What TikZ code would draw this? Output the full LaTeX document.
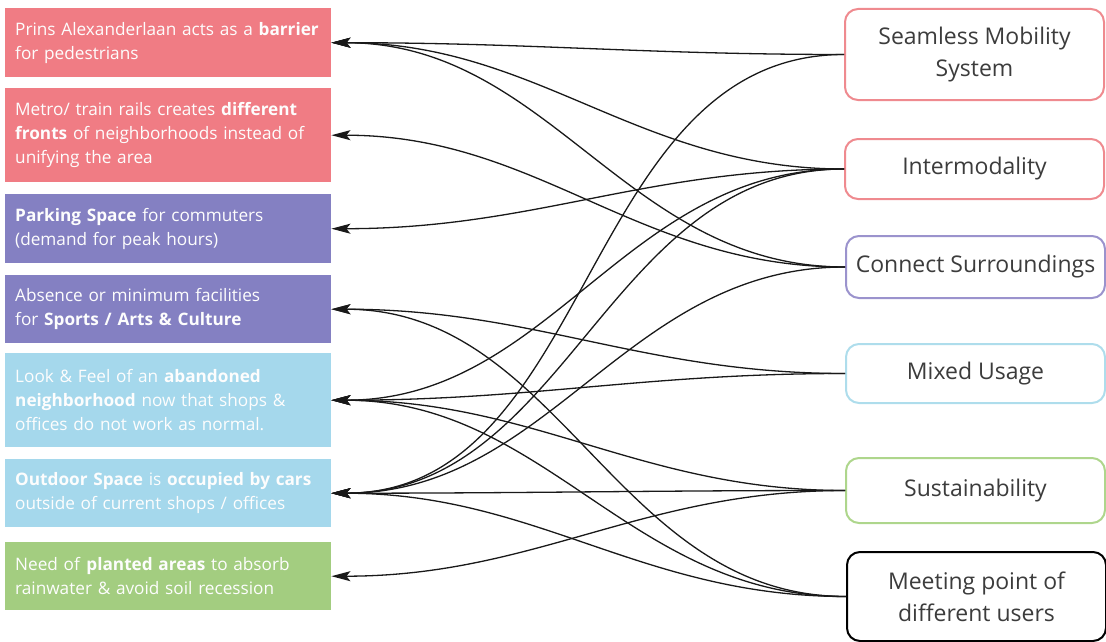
\documentclass[tikz,border=0pt]{standalone}
\usepackage{fontspec}
\setmainfont{Open Sans}
\usetikzlibrary{arrows.meta}
\definecolor{cred}{HTML}{F07C84}
\definecolor{cpurple}{HTML}{8480C2}
\definecolor{cblue}{HTML}{A5D8EC}
\definecolor{cgreen}{HTML}{A3CD80}
\definecolor{bred}{HTML}{EF8A8F}
\definecolor{bpurple}{HTML}{9B93CD}
\definecolor{bblue}{HTML}{AEDDEC}
\definecolor{bgreen}{HTML}{AED68C}
\definecolor{rtext}{HTML}{3C3C3C}
\definecolor{ctext}{HTML}{FDFDFD}
\begin{document}
\begin{tikzpicture}[x=1pt,y=-1pt,
  lbox/.style={draw=none, anchor=north west, minimum width=326pt, text width=306pt,
    inner xsep=10pt, inner ysep=0pt, align=left, text=ctext,
    font=\fontsize{17.2}{24}\selectfont},
  rbox/.style={draw, anchor=north west, line width=2pt, rounded corners=13pt,
    minimum width=259pt, inner sep=2pt, align=center, text=rtext, fill=white,
    font=\fontsize{23}{32}\selectfont},
  conn/.style={line width=1.3pt, draw=black!90,
    -{Stealth[length=19pt,width=10pt,inset=4pt]}}
]
\useasboundingbox (0,0) rectangle (1106,642);

% left boxes
\node[lbox, fill=cred, minimum height=69pt] (L1) at (5,8)
  {\mbox{Prins Alexanderlaan acts as a \textbf{barrier}}\\for pedestrians};
\node[lbox, fill=cred, minimum height=94pt] (L2) at (5,88)
  {\mbox{Metro/ train rails creates \textbf{different}}\\\mbox{\textbf{fronts} of neighborhoods instead of}\\unifying the area};
\node[lbox, fill=cpurple, minimum height=69pt] (L3) at (5,194)
  {\textbf{Parking Space} for commuters\\(demand for peak hours)};
\node[lbox, fill=cpurple, minimum height=68pt] (L4) at (5,275)
  {Absence or minimum facilities\\for \textbf{Sports / Arts \& Culture}};
\node[lbox, fill=cblue, minimum height=94pt] (L5) at (5,353)
  {Look \& Feel of an \textbf{abandoned}\\\mbox{\textbf{neighborhood} now that shops \&}\\offices do not work as normal.};
\node[lbox, fill=cblue, minimum height=68pt] (L6) at (5,459)
  {\mbox{\textbf{Outdoor Space} is \textbf{occupied by cars}}\\\mbox{outside of current shops / offices}};
\node[lbox, fill=cgreen, minimum height=68pt] (L7) at (5,542)
  {Need of \textbf{planted areas} to absorb\\\mbox{rainwater \& avoid soil recession}};

% right boxes
\node[rbox, draw=bred, minimum height=91pt] (R1) at (844,8) {Seamless Mobility\\System};
\node[rbox, draw=bred, minimum height=60pt] (R2) at (844,138) {Intermodality};
\node[rbox, draw=bpurple, minimum height=62pt] (R3) at (845,235) {Connect Surroundings};
\node[rbox, draw=bblue, minimum height=59pt] (R4) at (845,343) {Mixed Usage};
\node[rbox, draw=bgreen, minimum height=65pt] (R5) at (845,457) {Sustainability};
\node[rbox, draw=black, minimum height=89pt] (R6) at (846,551) {Meeting point of\\different users};

% connectors
\foreach \r/\l in {1/1,2/1,3/1,3/2,2/3,4/4,6/4,2/5,4/5,5/5,6/5,1/6,2/6,3/6,5/6,6/6,5/7}{
  \draw[conn] (R\r.west) to[out=180,in=0] (L\l.east);
}
\end{tikzpicture}
\end{document}
